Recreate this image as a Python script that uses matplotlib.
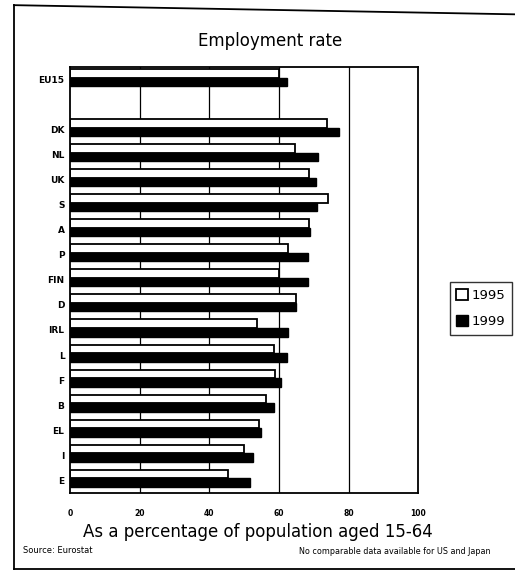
import numpy as np
import matplotlib.pyplot as plt
from matplotlib.lines import Line2D
from matplotlib.patches import Patch

# Employment rate, % of population aged 15-64
countries = ["EU15", "DK", "NL", "UK", "S", "A", "P", "FIN", "D", "IRL",
             "L", "F", "B", "EL", "I", "E"]
rate_1995 = [60.1, 73.8, 64.6, 68.6, 74.2, 68.5, 62.6, 60.0, 65.0, 53.7,
             58.5, 58.8, 56.3, 54.3, 50.1, 45.5]
rate_1999 = [62.2, 77.3, 71.3, 70.7, 71.0, 68.8, 68.4, 68.3, 64.9, 62.6,
             62.2, 60.5, 58.6, 54.9, 52.5, 51.8]
x_ticks = [0, 20, 40, 60, 80, 100]

# EU15 sits apart from the member states, one empty slot between
pos = np.array([0] + list(range(2, len(countries) + 1)))
h = 0.34

fig = plt.figure(figsize=(5.15, 5.73), dpi=100)
ax = fig.add_axes([0.136, 0.14, 0.676, 0.743])

for x in x_ticks[1:-1]:
    ax.axvline(x, color='black', lw=0.9, zorder=0)

ax.barh(pos - h / 2 - 0.08, rate_1995, height=h, color='white',
        edgecolor='black', linewidth=1.3, zorder=2)
ax.barh(pos + h / 2 - 0.08, rate_1999, height=h, color='black',
        edgecolor='black', linewidth=1.0, zorder=2)

ax.set_xlim(0, 100)
ax.set_ylim(len(countries) + 0.5, -0.5)
ax.set_yticks(pos)
ax.set_yticklabels(countries, fontsize=6.5, fontweight='bold')
ax.set_xticks(x_ticks)
ax.set_xticklabels([str(t) for t in x_ticks], fontsize=5.5, fontweight='bold')
ax.tick_params(length=0, pad=4)
ax.tick_params(axis='x', pad=12)
for s in ax.spines.values():
    s.set_linewidth(1.3)

ax.set_xlabel("As a percentage of population aged 15-64", fontsize=12)
ax.xaxis.set_label_coords(0.54, -0.07)

fig.text(0.525, 0.928, "Employment rate", ha='center', va='center', fontsize=12)
fig.text(0.045, 0.04, "Source: Eurostat", fontsize=6, va='center')
fig.text(0.952, 0.037, "No comparable data available for US and Japan",
         fontsize=5.8, ha='right', va='center')

handles = [Patch(facecolor='white', edgecolor='black', linewidth=1.3),
           Patch(facecolor='black', edgecolor='black')]
fig.legend(handles, ["1995", "1999"], loc='upper left',
           bbox_to_anchor=(0.873, 0.507), fontsize=9.5, frameon=True,
           fancybox=False, edgecolor='black', handlelength=0.9,
           handleheight=0.9, handletextpad=0.3, borderpad=0.5,
           labelspacing=1.0, borderaxespad=0)

# scanned page frame
for xs, ys in [([0.027, 0.027], [0.991, 0.007]),
               ([0.027, 1.0], [0.991, 0.975]),
               ([0.027, 1.0], [0.007, 0.007])]:
    fig.add_artist(Line2D(xs, ys, color='black', lw=1.3))

fig.savefig("out.png", dpi=100)
